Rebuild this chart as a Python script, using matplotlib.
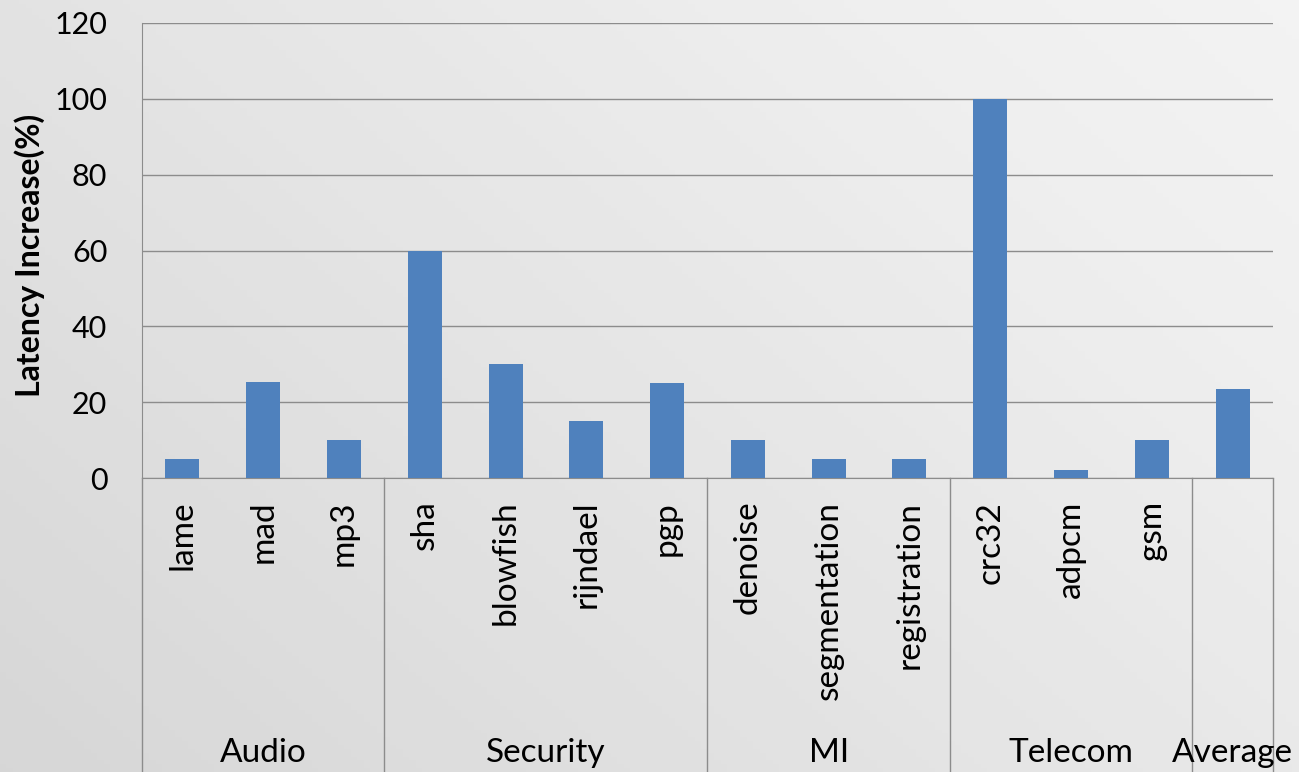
import matplotlib
matplotlib.use('Agg')
import matplotlib.pyplot as plt
import numpy as np

benchmarks = ["lame", "mad", "mp3", "sha", "blowfish", "rijndael", "pgp",
              "denoise", "segmentation", "registration", "crc32", "adpcm", "gsm", ""]
latency = [5, 25.3, 10, 60, 30, 15, 25, 10, 5, 5, 100, 2, 10, 23.4]
groups = ["Audio", "Security", "MI", "Telecom", "Average"]
group_sizes = [3, 4, 3, 3, 1]
yticks = [0, 20, 40, 60, 80, 100, 120]

plt.rcParams['font.family'] = ['Lato', 'DejaVu Sans']
grid_c = '#8c8c8c'
bar_c = '#4f81bd'

fig = plt.figure(figsize=(12.99, 7.72), dpi=100)

# light grey gradient background
bg = fig.add_axes([0, 0, 1, 1], zorder=-10)
gx, gy = np.meshgrid(np.linspace(0, 1, 200), np.linspace(0, 1, 200))
grad = 0.6 * gx + 0.4 * gy
bg.imshow(grad, cmap='Greys_r', vmin=-4.5, vmax=1.6, aspect='auto', origin='lower',
          extent=[0, 1, 0, 1])
bg.axis('off')

ax = fig.add_axes([142 / 1299, 1 - 478 / 772, (1273 - 142) / 1299, 455 / 772])
ax.patch.set_alpha(0)
x = np.arange(len(benchmarks))
ax.bar(x, latency, width=0.42, color=bar_c, zorder=3)

ax.set_xlim(-0.5, len(benchmarks) - 0.5)
ax.set_ylim(0, 120)
ax.set_yticks(yticks)
ax.tick_params(axis='y', length=0, pad=25, labelsize=22)
ax.set_xticks([])
ax.yaxis.grid(True, color=grid_c, linewidth=1)
for s in ['top', 'right']:
    ax.spines[s].set_visible(False)
ax.spines['left'].set_color(grid_c)
ax.spines['bottom'].set_color(grid_c)

fig.text(30 / 1299, 1 - 255 / 772, 'Latency Increase(%)', rotation=90,
         ha='center', va='center', fontsize=23, fontweight='bold')

tr = ax.get_xaxis_transform()
for xi, name in zip(x, benchmarks):
    ax.text(xi, -0.05, name, rotation=90, ha='center', va='top',
            fontsize=24, transform=tr)

bottom = -(772 - 478) / 455
start = -0.5
ax.plot([start, start], [0, bottom], color=grid_c, lw=1, transform=tr, clip_on=False)
for g, n in zip(groups, group_sizes):
    end = start + n
    ax.plot([end, end], [0, bottom], color=grid_c, lw=1, transform=tr, clip_on=False)
    ax.text((start + end) / 2, -0.605, g, ha='center', va='center',
            fontsize=24, transform=tr)
    start = end

fig.savefig('out.png', dpi=100)
